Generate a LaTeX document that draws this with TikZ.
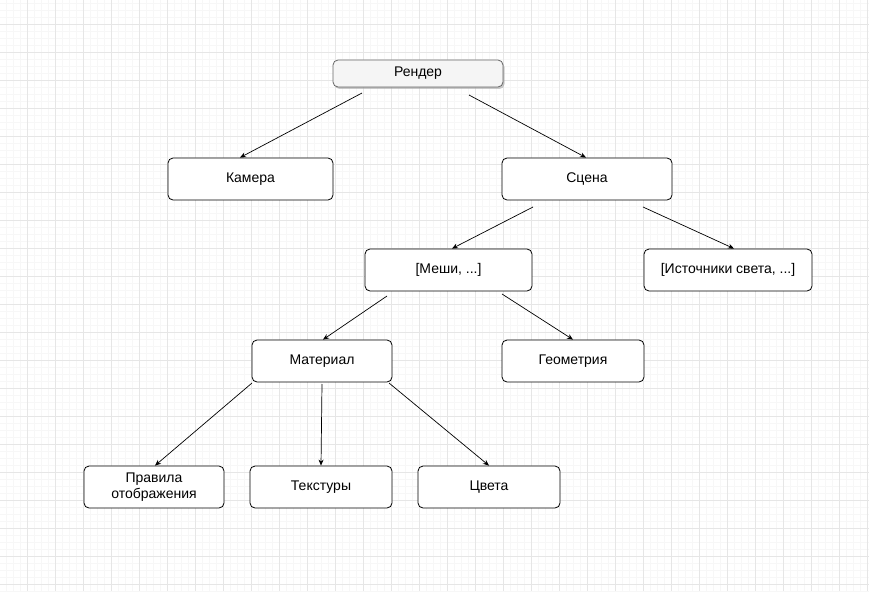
\documentclass[tikz,border=0pt]{standalone}
\usepackage{fontspec}
\setmainfont{Liberation Sans}
\usetikzlibrary{arrows.meta,shadows}
\definecolor{gmajor}{HTML}{E6E6E6}
\definecolor{gminor}{HTML}{F7F7F7}
\definecolor{rfill}{HTML}{F5F5F5}
\definecolor{rdraw}{HTML}{666666}
\tikzset{
  box/.style={draw=black, line width=0.8pt, rounded corners=5pt, fill=white,
    minimum width=140pt, minimum height=42pt, inner sep=2pt, align=center,
    font=\fontsize{14}{15.5}\selectfont},
  arr/.style={draw=black, line width=0.7pt, -{Stealth[length=6pt,width=5pt]}}
}
\begin{document}
\begin{tikzpicture}[x=1pt,y=-1pt]
\useasboundingbox (0,0) rectangle (869,591);
\fill[white] (0,0) rectangle (869,591);
\foreach \x in {-1,6,...,869} \draw[gminor, line width=0.5pt] (\x,0) -- (\x,591);
\foreach \y in {3,10,...,591} \draw[gminor, line width=0.5pt] (0,\y) -- (869,\y);
\foreach \x in {27,55,...,869} \draw[gmajor, line width=0.8pt] (\x,0) -- (\x,591);
\foreach \y in {24,52,...,591} \draw[gmajor, line width=0.8pt] (0,\y) -- (869,\y);

\node[box, draw=rdraw, fill=rfill, drop shadow={shadow xshift=1.5pt, shadow yshift=-2pt, fill=gray!70, opacity=0.6}, minimum width=170pt, minimum height=27pt] (render) at (418,73.5) {Рендер};
\node[box, minimum width=165pt] (kam) at (250.5,179) {Камера};
\node[box, minimum width=170pt] (scene) at (587,179) {Сцена};
\node[box, minimum width=167pt] (mesh) at (448.5,270) {[Меши, ...]};
\node[box, minimum width=168pt] (light) at (728,270) {[Источники света, ...]};
\node[box] (mat) at (322,361) {Материал};
\node[box, minimum width=142pt] (geom) at (573,361) {Геометрия};
\node[box, font=\fontsize{14}{16}\selectfont] (rules) at (154,487) {Правила\\отображения};
\node[box, minimum width=142pt] (tex) at (321,487) {Текстуры};
\node[box, minimum width=142pt] (col) at (489,487) {Цвета};

\coordinate (s1) at (362,93);
\coordinate (s2) at (469,95);
\coordinate (s3) at (533,207);
\coordinate (s4) at (643,207);
\coordinate (s5) at (387,296);
\coordinate (s6) at (502,294);
\coordinate (s7) at (252,383);
\coordinate (s8) at (322,384);
\coordinate (s9) at (389,383);

\draw[arr] (s1) -- ([xshift=-10.5pt]kam.north);
\draw[arr] (s2) -- ([xshift=-1pt]scene.north);
\draw[arr] (s3) -- ([xshift=3.5pt]mesh.north);
\draw[arr] (s4) -- ([xshift=6pt]light.north);
\draw[arr] (s5) -- ([xshift=1pt]mat.north);
\draw[arr] (s6) -- (geom.north);
\draw[arr] (s7) -- ([xshift=1pt]rules.north);
\draw[arr] (s8) -- (tex.north);
\draw[arr] (s9) -- (col.north);
\end{tikzpicture}
\end{document}
